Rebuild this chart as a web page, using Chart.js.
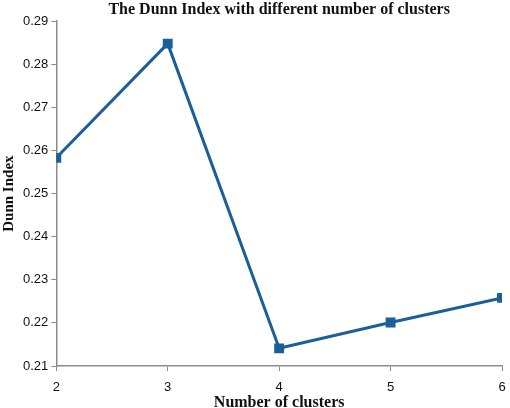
<!DOCTYPE html>
<html>
<head>
<meta charset="utf-8">
<script src="https://cdn.jsdelivr.net/npm/chart.js@4"></script>
<style>
  html, body { margin: 0; padding: 0; background: #fff; }
  #wrap { width: 510px; height: 408px; }
</style>
</head>
<body>
<div id="wrap"><canvas id="dunnChart" width="510" height="408"></canvas></div>
<script>
// values
var clusters = [2, 3, 4, 5, 6];
var dunnIndex = [0.2583, 0.2848, 0.2141, 0.2201, 0.2258];
var yTicks = [0.21, 0.22, 0.23, 0.24, 0.25, 0.26, 0.27, 0.28, 0.29];
var chartTitle = 'The Dunn Index with different number of clusters';

var lineColor = '#1c5e98';
var axisColor = '#8c8c8c';
var serif = '"Liberation Serif", "Times New Roman", serif';
var sans = '"Liberation Sans", Arial, sans-serif';

var points = clusters.map(function(c, i) {
  return { x: c, y: dunnIndex[i] };
});

// title is centred over the plot area, not the whole canvas
var plotTitle = {
  id: 'plotTitle',
  afterDraw: function(chart) {
    var c = chart.ctx, a = chart.chartArea;
    c.save();
    c.font = 'bold 16px ' + serif;
    c.fillStyle = '#111';
    c.textAlign = 'center';
    c.textBaseline = 'middle';
    c.fillText(chartTitle, (a.left + a.right) / 2, 10);
    c.restore();
  }
};

var ctx = document.getElementById('dunnChart').getContext('2d');

new Chart(ctx, {
  type: 'line',
  data: {
    datasets: [{
      data: points,
      borderColor: lineColor,
      backgroundColor: lineColor,
      borderWidth: 3,
      pointStyle: 'rect',
      pointRadius: 7,
      pointBorderWidth: 0,
      tension: 0
    }]
  },
  options: {
    responsive: false,
    animation: false,
    layout: { padding: { left: 0, right: 0, top: 0, bottom: 0 } },
    plugins: {
      legend: { display: false },
      tooltip: { enabled: false },
      title: {
        // reserves the space; the text itself is drawn by plotTitle
        display: true,
        text: chartTitle,
        color: 'rgba(0,0,0,0)',
        font: { family: serif, size: 16, weight: 'bold' },
        padding: { top: 0, bottom: 2 }
      }
    },
    scales: {
      x: {
        type: 'linear',
        min: 2,
        max: 6,
        afterFit: function(scale) {
          scale.height = 42;
          scale.paddingLeft = 0;
          scale.paddingRight = 8;
        },
        grid: { drawOnChartArea: false, tickLength: 5, color: axisColor },
        border: { color: axisColor, width: 1.5 },
        ticks: {
          stepSize: 1,
          color: '#111',
          padding: 9,
          font: { family: sans, size: 13 }
        },
        title: {
          display: true,
          text: 'Number of clusters',
          color: '#111',
          padding: { top: 0, bottom: -2 },
          font: { family: serif, size: 16, weight: 'bold', lineHeight: 0.9 }
        }
      },
      y: {
        min: 0.21,
        max: 0.29,
        afterBuildTicks: function(axis) {
          axis.ticks = yTicks.map(function(v) { return { value: v }; });
        },
        grid: { drawOnChartArea: false, tickLength: 5, color: axisColor },
        border: { color: axisColor, width: 1.5 },
        ticks: {
          color: '#111',
          padding: 3,
          font: { family: sans, size: 13 },
          callback: function(v) { return Number(v).toFixed(2); }
        },
        title: {
          display: true,
          text: 'Dunn Index',
          color: '#111',
          padding: { top: 0, bottom: 2 },
          font: { family: serif, size: 15, weight: 'bold' }
        }
      }
    }
  },
  plugins: [plotTitle]
});
</script>
</body>
</html>
